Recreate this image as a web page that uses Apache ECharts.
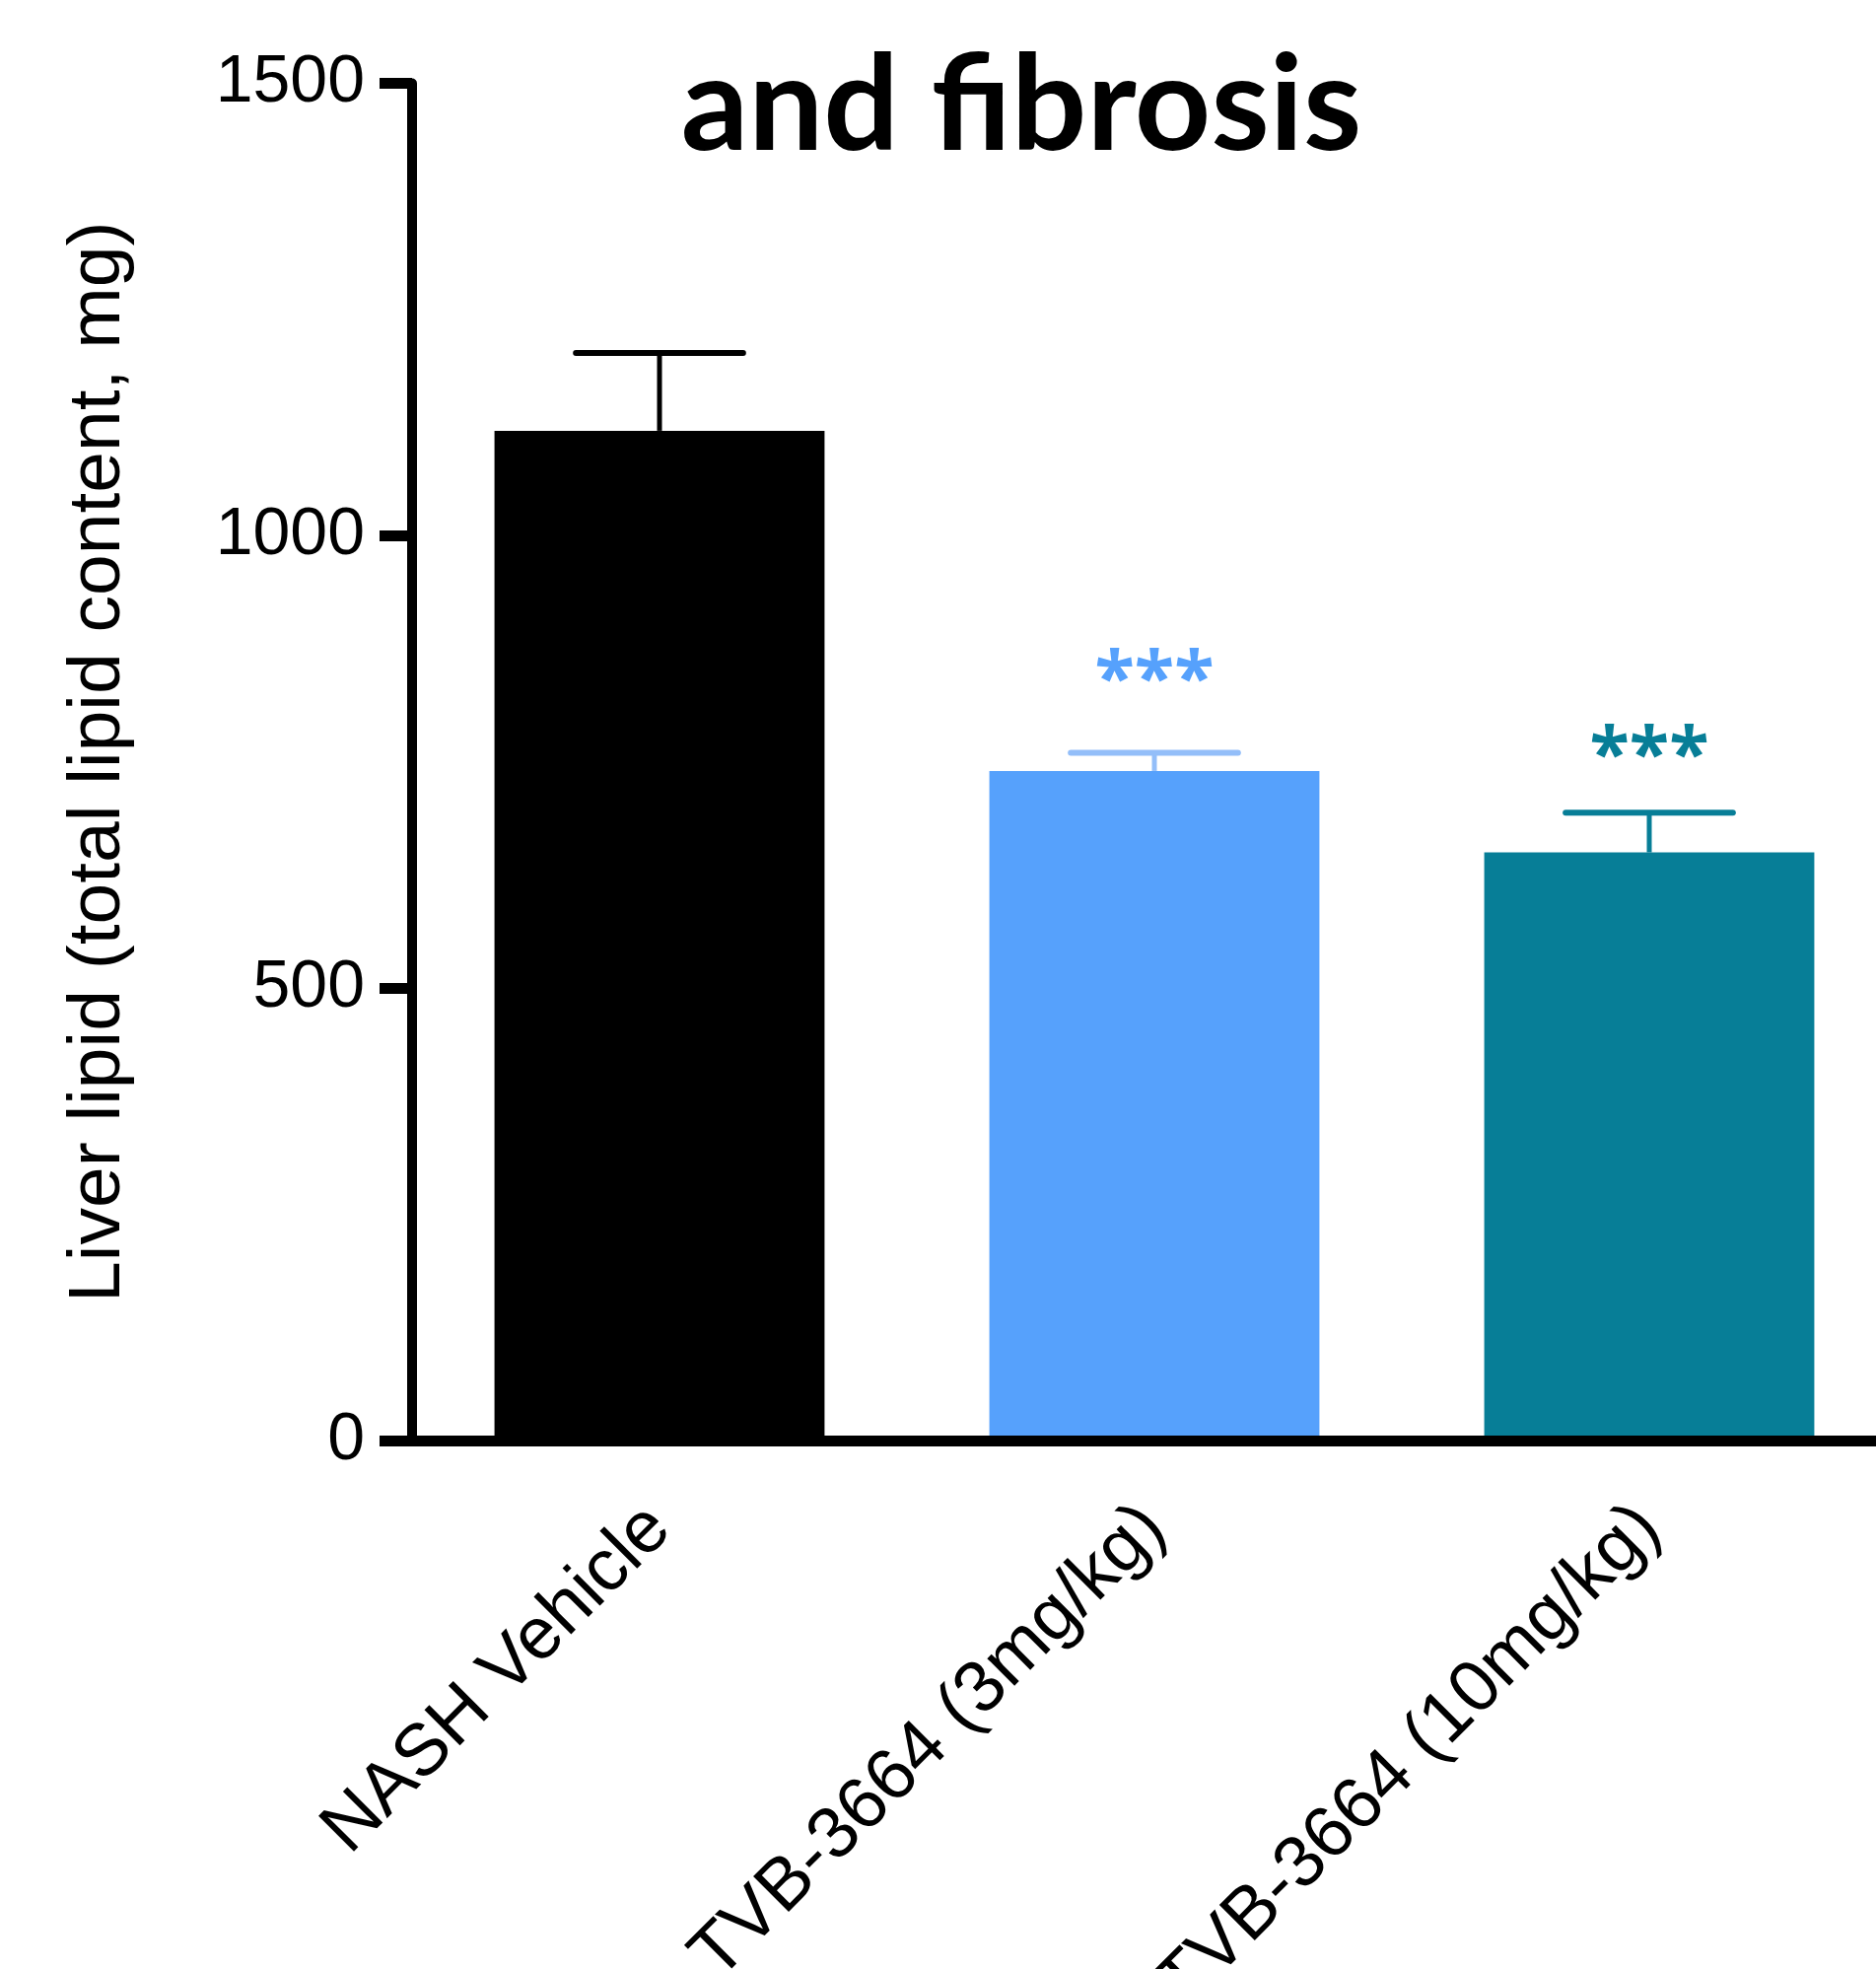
<!DOCTYPE html>
<html>
<head>
<meta charset="utf-8">
<script src="https://cdn.jsdelivr.net/npm/echarts@6.0.0/dist/echarts.min.js"></script>
<style>
  html, body { margin: 0; padding: 0; background: #fff; }
  #chart { width: 1903px; height: 1997px; }
</style>
</head>
<body>
<div id="chart"></div>
<script>
  // values
  const categories = ['NASH Vehicle', 'TVB-3664 (3mg/kg)', 'TVB-3664 (10mg/kg)']
  const meanValues = [1116, 740, 650]
  const semValues = [86, 20, 44]
  const starLabels = ['', '***', '***']
  const starLevels = [null, 798, 714]
  const barColors = ['#000000', '#56A1FC', '#077E97']
  const errColors = ['#000000', '#93BEF9', '#077E97']

  const myChart = echarts.init(document.getElementById('chart'))

  myChart.setOption({
    animation: false,
    title: {
      text: 'and fibrosis',
      left: 1031,
      top: 36,
      textAlign: 'center',
      textStyle: {
        fontFamily: 'Lato',
        fontWeight: 'bold',
        fontSize: 135,
        color: '#000'
      }
    },
    grid: {
      left: 418,
      top: 84.5,
      width: 1506,
      height: 1376.5,
      containLabel: false,
      outerBoundsMode: 'none'
    },
    xAxis: {
      type: 'category',
      data: categories,
      z: 10,
      axisLine: { lineStyle: { color: '#000', width: 11 } },
      axisTick: { alignWithLabel: true, length: 19, lineStyle: { color: '#000', width: 11 } },
      axisLabel: {
        interval: 0,
        rotate: 45,
        margin: 78,
        color: '#000',
        fontFamily: 'Liberation Sans',
        fontSize: 74
      }
    },
    yAxis: {
      type: 'value',
      min: 0,
      max: 1500,
      interval: 500,
      z: 10,
      name: 'Liver lipid (total lipid content, mg)',
      nameLocation: 'middle',
      nameGap: 280,
      nameTextStyle: {
        color: '#000',
        fontFamily: 'Liberation Sans',
        fontSize: 75
      },
      splitLine: { show: false },
      axisLine: { show: true, lineStyle: { color: '#000', width: 10 } },
      axisTick: { show: true, length: 33, lineStyle: { color: '#000', width: 11 } },
      axisLabel: {
        margin: 48,
        color: '#000',
        fontFamily: 'Liberation Sans',
        fontSize: 68,
        formatter: function (v) { return String(v) }
      }
    },
    series: [
      {
        name: 'mean',
        type: 'bar',
        barWidth: '66.7%',
        data: meanValues.map(function (v, i) {
          return { value: v, itemStyle: { color: barColors[i] } }
        })
      },
      {
        name: 'sem',
        type: 'custom',
        z: 5,
        data: meanValues.map(function (v, i) {
          return [i, v, v + semValues[i]]
        }),
        renderItem: function (params, api) {
          const i = params.dataIndex
          const base = api.coord([api.value(0), api.value(1)])
          const top = api.coord([api.value(0), api.value(2)])
          const half = api.size([1, 0])[0] * 0.169
          const color = errColors[i]
          const children = [
            {
              type: 'line',
              shape: { x1: base[0], y1: base[1], x2: top[0], y2: top[1] },
              style: { stroke: color, lineWidth: 5 }
            },
            {
              type: 'line',
              shape: { x1: top[0] - half, y1: top[1], x2: top[0] + half, y2: top[1] },
              style: { stroke: color, lineWidth: 6, lineCap: 'round' }
            }
          ]
          // significance stars
          if (starLabels[i]) {
            const sp = api.coord([api.value(0), starLevels[i]])
            children.push({
              type: 'text',
              x: sp[0],
              y: sp[1],
              style: {
                text: starLabels[i],
                fill: barColors[i],
                font: 'bold 74px "Open Sans"',
                align: 'center',
                verticalAlign: 'bottom'
              }
            })
          }
          return { type: 'group', children: children }
        }
      }
    ]
  })
</script>
</body>
</html>
